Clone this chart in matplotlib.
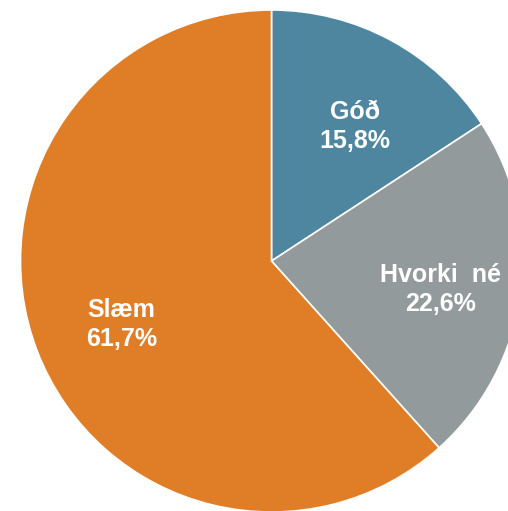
import matplotlib
matplotlib.use("Agg")
import matplotlib.pyplot as plt
import numpy as np

labels = ["Góð", "Hvorki  né", "Slæm"]
values = [15.8, 22.6, 61.7]
pct_text = ["15,8%", "22,6%", "61,7%"]
colors = ["#4E86A0", "#939A9B", "#E07E27"]
label_dist = [0.63, 0.684, 0.65]
label_rot = [-3.5, -2.2, 2.0]

W, H = 508, 511
fig = plt.figure(figsize=(W / 100, H / 100), dpi=100)
ax = fig.add_axes([0, 0, 1, 1])
cx, cy, r = 271.5, 261.0, 251.0  # pixel layout of pie

wedges, _ = ax.pie(
    values, colors=colors, startangle=90, counterclock=False, radius=1,
    wedgeprops=dict(edgecolor="white", linewidth=1.2),
)
for w, lab, pct, d, rot in zip(wedges, labels, pct_text, label_dist, label_rot):
    ang = np.deg2rad((w.theta1 + w.theta2) / 2 + rot)
    ax.text(d * np.cos(ang), d * np.sin(ang), f"{lab}\n{pct}",
            ha="center", va="center", color="white", fontsize=18,
            fontweight="bold", family=["Liberation Sans", "DejaVu Sans"],
            linespacing=1.25)
ax.set_xlim(-cx / r, (W - cx) / r)
ax.set_ylim(-(H - cy) / r, cy / r)
ax.set_aspect("auto")
ax.axis("off")
fig.savefig("out.png", dpi=100)
